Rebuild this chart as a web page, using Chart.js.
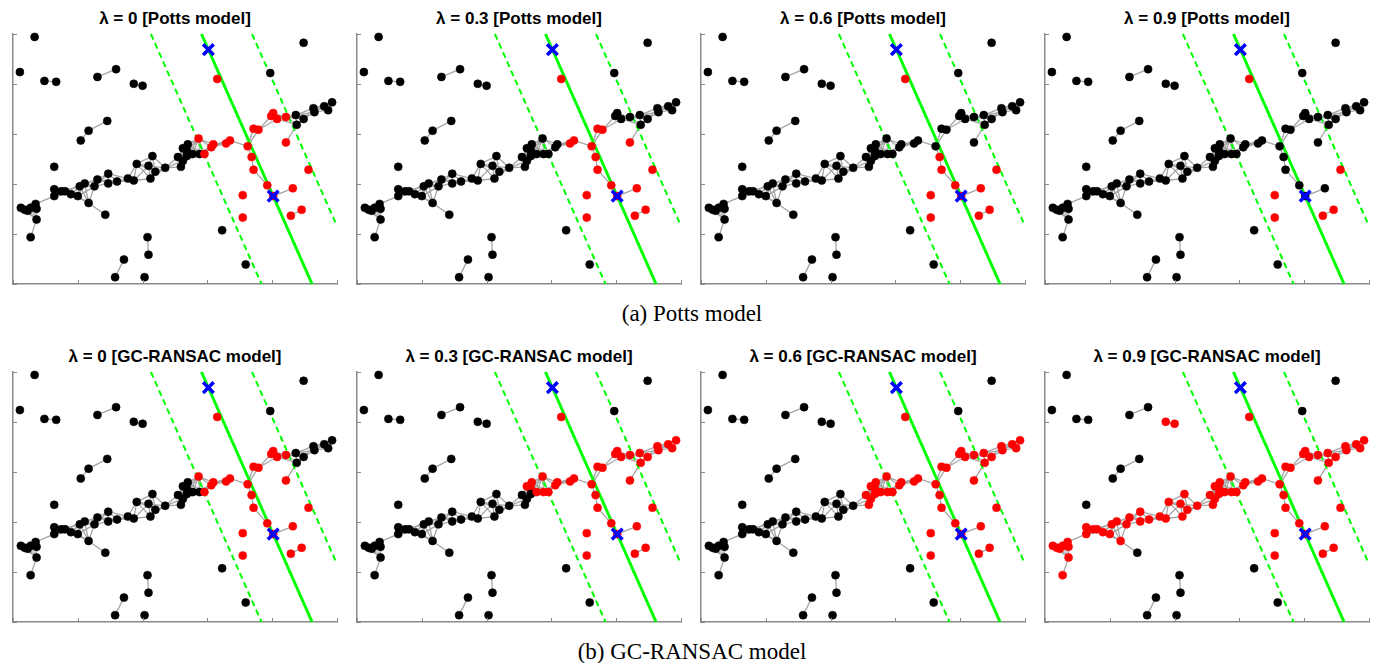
<!DOCTYPE html>
<html>
<head>
<meta charset="utf-8">
<script src="https://cdn.jsdelivr.net/npm/chart.js@4.4.0/dist/chart.umd.min.js"></script>
<style>
body { margin: 0; background: #fff; width: 1384px; height: 663px; position: relative; overflow: hidden; }
canvas { position: absolute; }
.ttl { position: absolute; width: 330px; text-align: center; font: bold 17px "Liberation Sans", Arial, sans-serif; color: #000; line-height: 20px; white-space: nowrap; }
.cap { position: absolute; left: 0; width: 1384px; text-align: center; font: 23px "Liberation Serif", "Times New Roman", serif; color: #000; line-height: 26px; }
</style>
</head>
<body>
<div class="cap" style="top:301px">(a) Potts model</div>
<div class="cap" style="top:639px">(b) GC-RANSAC model</div>
<script>
// point cloud (same in every panel)
const ptX = [22, 7, 32, 44, 86, 105, 123, 132, 69, 77, 96, 296, 262, 208, 42,
  8, 12, 15, 18, 23, 24, 24, 18,
  42, 42, 49, 53, 59, 66, 68, 73, 77, 94, 83, 86, 97, 97, 106, 117, 123, 126, 138, 142, 145, 140, 155,
  168, 171, 173, 178, 177, 177, 183, 190, 173,
  189, 202, 204, 195, 217, 221, 239, 245, 250, 263, 265, 269, 278,
  288, 289, 296, 306, 307, 317, 321, 325, 278,
  243, 245, 259, 265, 285, 234, 234, 294, 283, 301,
  213, 237, 137, 138, 113, 104, 134];
const ptY = [253, 217, 208, 207, 212, 220, 205, 203, 147, 157, 167, 247, 216, 210, 120,
  78, 76, 75, 78, 82, 77, 66, 48,
  97, 90, 95, 95, 92, 90, 100, 103, 83, 71, 100, 107, 113, 103, 105, 108, 106, 123, 121, 131, 115, 108, 119,
  130, 120, 139, 143, 137, 131, 133, 133, 126,
  149, 140, 143, 133, 144, 147, 141, 159, 158, 172, 175, 169, 171,
  173, 163, 169, 180, 176, 182, 178, 186, 145,
  130, 117, 101, 90, 98, 91, 68, 76, 70, 117,
  55, 20, 48, 30, 25, 7, 7];

// the two sampled points of the line model (blue crosses)
const modelX = [199, 265];
const modelY = [240, 90];
const bandHalf = 51.5;     // inlier band, horizontal half width
const edgeDist = 22;       // neighbourhood radius of the graph

const xMax = 330, yMax = 256;
const xTicks = [0, 66, 132, 198, 264, 330];
const yTicks = [0, 51.2, 102.4, 153.6, 204.8, 256];

function range(a, b) { const r = []; for (let i = a; i <= b; i++) r.push(i); return r; }

const redPotts0 = [13, ...range(55, 67), ...range(76, 86)];
const redPotts03 = [13, 59, 60, 61, 62, 63, ...range(76, 86)];
const redPotts06 = [13, ...range(77, 86)];
const redPotts09 = [13, 82, 83, 84, 85, 86];
const redGC0 = redPotts0;
const redGC03 = [...redPotts0, 48, 49, 50, 52, 53, ...range(68, 75)];
const redGC06 = [...redPotts0, ...range(46, 54), ...range(68, 75)];
const redGC09 = [6, 7, 13, ...range(15, 31), ...range(33, 86)];

const lambdas = ['0', '0.3', '0.6', '0.9'];
const models = ['Potts model', 'GC-RANSAC model'];
const redSets = [[redPotts0, redPotts03, redPotts06, redPotts09], [redGC0, redGC03, redGC06, redGC09]];

const axisColor = '#8a8a8a';
const green = '#00ff00';

// line through the two model points, shifted horizontally, clipped to the box
function lineAt(shift) {
  const k = (modelX[1] - modelX[0]) / (modelY[1] - modelY[0]);
  const xOf = y => modelX[0] + shift + (y - modelY[0]) * k;
  const yOf = x => modelY[0] + (x - shift - modelX[0]) / k;
  let p = [{ x: xOf(yMax), y: yMax }, { x: xOf(0), y: 0 }];
  p = p.map(q => {
    if (q.x > xMax) return { x: xMax, y: yOf(xMax) };
    if (q.x < 0) return { x: 0, y: yOf(0) };
    return q;
  });
  return p;
}

const edgeData = [];
for (let i = 0; i < ptX.length; i++) {
  for (let j = i + 1; j < ptX.length; j++) {
    const d = Math.hypot(ptX[i] - ptX[j], ptY[i] - ptY[j]);
    if (d <= edgeDist) {
      edgeData.push({ x: ptX[i], y: ptY[i] }, { x: ptX[j], y: ptY[j] }, { x: NaN, y: NaN });
    }
  }
}

const innerTicks = {
  id: 'innerTicks',
  afterDraw(chart) {
    const { ctx, chartArea: a, scales } = chart;
    ctx.save();
    ctx.strokeStyle = axisColor;
    ctx.lineWidth = 1;
    xTicks.forEach(v => {
      const px = Math.round(scales.x.getPixelForValue(v)) + 0.5;
      ctx.beginPath(); ctx.moveTo(px, a.bottom); ctx.lineTo(px, a.bottom - 4); ctx.stroke();
    });
    yTicks.forEach(v => {
      const py = Math.round(scales.y.getPixelForValue(v)) + 0.5;
      ctx.beginPath(); ctx.moveTo(a.left, py); ctx.lineTo(a.left + 4, py); ctx.stroke();
    });
    ctx.restore();
  }
};

const pad = 8;
const points = ptX.map((x, i) => ({ x, y: ptY[i] }));

for (let r = 0; r < 2; r++) {
  for (let c = 0; c < 4; c++) {
    const left = 10 + 344 * c, top = 31 + 338 * r;

    const t = document.createElement('div');
    t.className = 'ttl';
    t.style.left = left + 'px';
    t.style.top = (top - 22) + 'px';
    t.textContent = 'λ = ' + lambdas[c] + ' [' + models[r] + ']';
    document.body.appendChild(t);

    const cv = document.createElement('canvas');
    cv.width = xMax + 2 * pad;
    cv.height = yMax + 2 * pad;
    cv.style.left = (left - pad) + 'px';
    cv.style.top = (top - pad) + 'px';
    document.body.appendChild(cv);

    const reds = new Set(redSets[r][c]);
    const cols = ptX.map((_, i) => reds.has(i) ? '#ff0000' : '#000000');

    new Chart(cv.getContext('2d'), {
      type: 'scatter',
      data: {
        datasets: [
          {
            data: modelX.map((x, i) => ({ x, y: modelY[i] })),
            pointStyle: 'crossRot', pointRadius: 7.5, pointBorderWidth: 3.5,
            borderColor: '#0000ff', backgroundColor: '#0000ff', order: 0, clip: false
          },
          {
            data: points, pointRadius: 4, pointBorderWidth: 0.6,
            pointBackgroundColor: cols, pointBorderColor: cols, order: 1, clip: false
          },
          {
            data: lineAt(0), showLine: true, pointRadius: 0,
            borderColor: green, borderWidth: 3, order: 2, clip: false
          },
          {
            data: lineAt(-bandHalf), showLine: true, pointRadius: 0,
            borderColor: green, borderWidth: 2, borderDash: [6, 4], order: 2, clip: false
          },
          {
            data: lineAt(bandHalf), showLine: true, pointRadius: 0,
            borderColor: green, borderWidth: 2, borderDash: [6, 4], order: 2, clip: false
          },
          {
            data: edgeData, showLine: true, pointRadius: 0, spanGaps: false,
            borderColor: '#a6a6a6', borderWidth: 1.3, order: 3, clip: false
          }
        ]
      },
      options: {
        responsive: false,
        animation: false,
        devicePixelRatio: 1,
        events: [],
        layout: { padding: pad },
        plugins: { legend: { display: false }, tooltip: { enabled: false }, title: { display: false } },
        scales: {
          x: {
            type: 'linear', min: 0, max: xMax,
            ticks: { display: false },
            grid: { display: true, drawOnChartArea: false, drawTicks: false },
            border: { display: true, color: axisColor, width: 1.5 },
            afterFit: s => { s.height = 0; }
          },
          y: {
            type: 'linear', min: 0, max: yMax,
            ticks: { display: false },
            grid: { display: true, drawOnChartArea: false, drawTicks: false },
            border: { display: true, color: axisColor, width: 1.5 },
            afterFit: s => { s.width = 0; }
          }
        }
      },
      plugins: [innerTicks]
    });
  }
}
</script>
</body>
</html>
